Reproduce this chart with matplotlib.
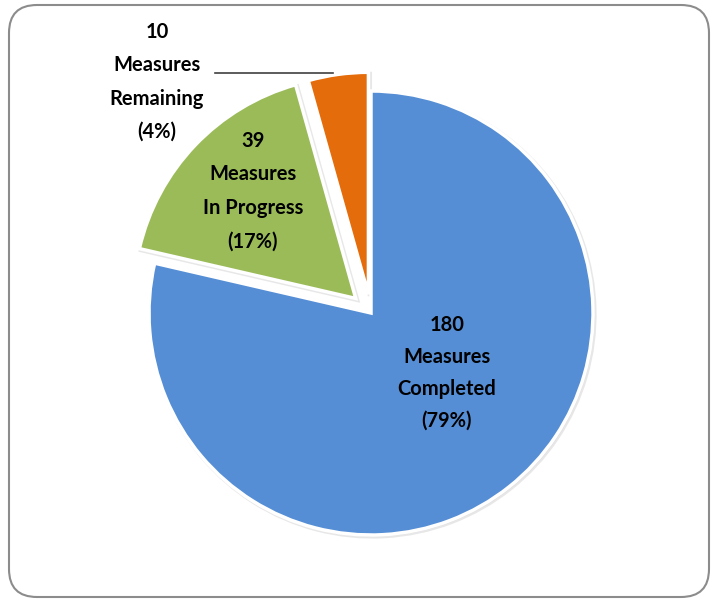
import numpy as np
import matplotlib.pyplot as plt
from matplotlib.patches import FancyBboxPatch

# data
counts = [180, 39, 10]
states = ['Completed', 'In Progress', 'Remaining']
shares = [79, 17, 4]
colors = ['#558ED5', '#9BBB59', '#E46C0A']
explode = [0.0, 0.095, 0.085]

plt.rcParams['font.family'] = ['Lato', 'DejaVu Sans']

W, H = 713, 600
fig = plt.figure(figsize=(W / 100, H / 100), dpi=100)

# background axes in pixel units (origin bottom-left)
bg = fig.add_axes([0, 0, 1, 1])
bg.set_xlim(0, W)
bg.set_ylim(0, H)
bg.axis('off')
frame = FancyBboxPatch((9, 3), 700, 592, boxstyle='round,pad=0,rounding_size=28',
                       facecolor='white', edgecolor='#8c8c8c', linewidth=1.5)
bg.add_patch(frame)

# pie is drawn at unit radius; limits map it onto the pixel layout
cx, cy, r = 371, 287, 222

# soft shadow under the slices
sa = fig.add_axes([0, 0, 1, 1])
sa.set_facecolor('none')
sa.pie(counts, colors=['#d0d0d0'] * 3, explode=explode, startangle=90,
       counterclock=False, radius=1.0,
       wedgeprops=dict(edgecolor='#d0d0d0', linewidth=3, alpha=0.5))
sa.set_xlim(-(cx + 1.5) / r, (W - cx - 1.5) / r)
sa.set_ylim(-(cy - 1.5) / r, (H - cy + 1.5) / r)
sa.set_aspect('auto')
sa.axis('off')

pa = fig.add_axes([0, 0, 1, 1])
pa.set_facecolor('none')
wedges, _ = pa.pie(counts, colors=colors, explode=explode, startangle=90,
                   counterclock=False, radius=1.0,
                   wedgeprops=dict(edgecolor='white', linewidth=2.5))
pa.set_xlim(-cx / r, (W - cx) / r)
pa.set_ylim(-cy / r, (H - cy) / r)
pa.set_aspect('auto')
pa.axis('off')

def label(i):
    return f"{counts[i]}\nMeasures\n{states[i]}\n({shares[i]}%)"

txt = dict(ha='center', va='center', fontsize=14.5, fontweight='bold',
           color='black', transform=bg.transData, zorder=5)
fig.text(447, 227, label(0), linespacing=1.74, **txt)
fig.text(253, 409, label(1), linespacing=1.85, **txt)
fig.text(157, 518, label(2), linespacing=1.84, **txt)

# leader line for the small slice
la = fig.add_axes([0, 0, 1, 1])
la.set_xlim(0, W)
la.set_ylim(0, H)
la.axis('off')
la.plot([215, 333], [527, 527], color='#404040', linewidth=1.2)

fig.savefig('out.png', dpi=100)
